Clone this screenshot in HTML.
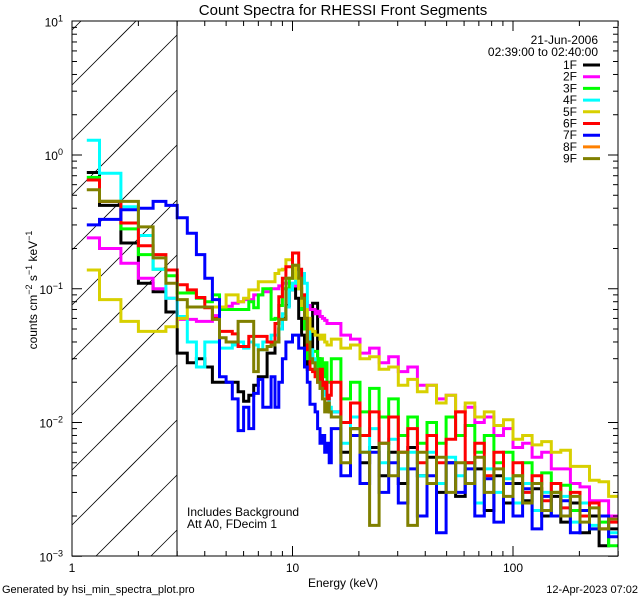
<!DOCTYPE html>
<html><head><meta charset="utf-8"><style>
html,body{margin:0;padding:0;background:#fff;width:640px;height:600px;overflow:hidden;}
svg{display:block;font-family:"Liberation Sans",sans-serif;}
</style></head><body>
<svg id="chart" width="640" height="600" viewBox="0 0 640 600" xmlns="http://www.w3.org/2000/svg">
<defs><clipPath id="plotclip"><rect x="72" y="21" width="546" height="535"/></clipPath></defs>
<text x="343" y="15" font-size="15" text-anchor="middle">Count Spectra for RHESSI Front Segments</text>
<g id="hatch"></g>
<g id="series" clip-path="url(#plotclip)"></g>
<g id="axes"></g>
<rect x="72" y="21" width="546" height="535" fill="none" stroke="#000" stroke-width="1"/>
<line x1="177" y1="21" x2="177" y2="556" stroke="#000" stroke-width="1"/>
<text transform="translate(37,290) rotate(-90)" font-size="12" text-anchor="middle">counts cm<tspan dy="-5" font-size="9">−2</tspan><tspan dy="5"> s</tspan><tspan dy="-5" font-size="9">−1</tspan><tspan dy="5"> keV</tspan><tspan dy="-5" font-size="9">−1</tspan></text>
<text x="343" y="587" font-size="12" text-anchor="middle">Energy (keV)</text>
<text x="2" y="593" font-size="11">Generated by hsi_min_spectra_plot.pro</text>
<text x="638" y="593" font-size="11" text-anchor="end">12-Apr-2023 07:02</text>
<text x="187" y="516" font-size="12">Includes Background</text>
<text x="187" y="528" font-size="12">Att A0, FDecim 1</text>
<text x="598" y="44" font-size="12" text-anchor="end">21-Jun-2006</text>
<text x="598" y="56" font-size="12" text-anchor="end">02:39:00 to 02:40:00</text>
<g id="legend"></g>
</svg>
<script>
const seriesNames = ["1F","2F","3F","4F","5F","6F","7F","8F","9F"];
const seriesColors = ["#000000","#ff00ff","#00ff00","#00ffff","#d8d000","#ff0000","#0000ff","#ff8000","#808000"];
const s1F = [.74,.42,.22,.11,.095,.067,.033,.028,.03,.026,.02,.02,.02,.02,.017,.0144,.016,.019,.022,.022,.033,.033,.04,.05,.06,.075,.098,.1,.085,.06,.045,.035,.025,.03,.078,.078,.03,.022,.02,.018,.015,.012,
 .012,.006,.009,.005,.0065,.004,.006,.0035,.0065,.004,.0055,.003,.005,.0028,.005,.0045,.0022,.004,.0025,.0035,.0026,.0032,.002,.0028,.0018,.0025,.0015,.002,.0012,.0016];
const s2F = [.24,.2,.155,.12,.1,.085,.059,.059,.057,.057,.063,.07,.074,.078,.08,.083,.083,.09,.09,.095,.095,.1,.1,.105,.11,.11,.11,.11,.105,.1,.09,.08,.075,.07,.07,.065,.068,.062,.06,.058,.055,.055,
 .055,.045,.042,.033,.036,.028,.031,.024,.026,.019,.019,.015,.016,.012,.013,.01,.011,.008,.009,.0065,.007,.0055,.006,.0045,.0045,.0035,.0033,.0026,.0026,.002];
const s3F = [.68,.45,.28,.18,.14,.125,.093,.093,.085,.08,.09,.07,.07,.07,.07,.07,.08,.072,.09,.1,.1,.059,.06,.075,.1,.1,.12,.13,.12,.1,.07,.05,.03,.028,.034,.034,.025,.03,.022,.028,.02,.02,
 .03,.015,.02,.012,.018,.011,.015,.008,.011,.007,.01,.007,.011,.008,.0095,.006,.008,.005,.006,.004,.005,.0035,.0042,.003,.0034,.0022,.0025,.0016,.0018,.0012];
const s4F = [1.29,.73,.41,.25,.14,.085,.062,.04,.026,.04,.04,.036,.036,.038,.04,.036,.04,.038,.035,.04,.04,.045,.045,.05,.065,.073,.098,.11,.138,.138,.13,.11,.06,.035,.03,.025,.022,.018,.02,.016,.015,.013,
 .012,.007,.011,.006,.009,.005,.0075,.0045,.006,.004,.006,.0035,.0055,.004,.005,.0025,.0045,.003,.0038,.0025,.0035,.0022,.003,.002,.0028,.0018,.0025,.0017,.002,.0015];
const s5F = [.138,.083,.057,.048,.048,.052,.06,.073,.073,.073,.073,.073,.09,.09,.08,.085,.098,.098,.113,.113,.113,.113,.13,.138,.14,.165,.165,.15,.12,.1,.075,.07,.06,.05,.048,.045,.045,.042,.045,.04,.038,.038,
 .042,.036,.038,.03,.031,.025,.026,.019,.021,.017,.019,.014,.016,.012,.014,.011,.012,.0095,.0105,.0075,.008,.0068,.0072,.006,.0062,.0047,.0047,.0037,.0036,.0028];
const s6F = [.65,.45,.31,.21,.18,.138,.107,.098,.086,.072,.06,.048,.048,.046,.037,.037,.044,.044,.044,.044,.04,.04,.055,.087,.12,.146,.146,.185,.185,.14,.09,.06,.035,.025,.024,.022,.02,.025,.018,.02,.015,.016,
 .02,.01,.014,.008,.012,.007,.011,.006,.009,.005,.008,.005,.0075,.012,.005,.007,.004,.006,.0035,.005,.003,.004,.0026,.0035,.0023,.003,.002,.0025,.0016,.0018];
const s7F = [.30,.33,.39,.40,.45,.42,.34,.26,.18,.12,.083,.022,.02,.015,.0087,.013,.009,.0165,.021,.013,.013,.022,.013,.02,.03,.04,.04,.045,.045,.036,.036,.026,.02,.0137,.0137,.012,.009,.007,.008,.006,.007,.005,
 .009,.004,.008,.0035,.006,.003,.005,.0025,.0045,.002,.004,.0015,.005,.003,.0045,.002,.0038,.0018,.0035,.002,.0032,.0016,.0028,.002,.0026,.0015,.0022,.0016,.002,.0014];
const s8F = [];
const s9F = [.55,.45,.45,.29,.17,.11,.083,.073,.073,.073,.059,.043,.04,.04,.057,.057,.057,.024,.035,.035,.037,.038,.04,.059,.059,.12,.12,.15,.15,.12,.085,.06,.04,.03,.028,.025,.02,.018,.015,.012,.014,.012,
 .011,.005,.009,.006,.0017,.007,.004,.006,.0017,.006,.0035,.0055,.003,.005,.0035,.0055,.003,.0045,.0028,.004,.0025,.0035,.0022,.003,.002,.0028,.0018,.0023,.0016,.0019];
const seriesData = [s1F,s2F,s3F,s4F,s5F,s6F,s7F,s8F,s9F];
const xTickMajor = [1,10,100];
const xTickLabels = ["1","10","100"];
const yTickExps = [1,0,-1,-2,-3];

const NS="http://www.w3.org/2000/svg";
function xs(E){return 72+220.5*Math.log10(E);}
function ys(v){return 155-133.75*Math.log10(v);}
function mk(tag,attrs,parent){const e=document.createElementNS(NS,tag);for(const k in attrs)e.setAttribute(k,attrs[k]);parent.appendChild(e);return e;}

const edges=[7/6];
for(let k=0;k<=41;k++) edges.push(4/3+k/3);
for(let j=1;j<=30;j++) edges.push(15*Math.pow(20,j/30));

// hatch lines clipped geometrically to x[72,177], y[21,556]; line: y = c - (x-72)
const hatch=document.getElementById('hatch');
const HX0=72,HX1=177,HY0=21,HY1=556;
for(let k=-2;k<12;k++){
  const c=85+k*55;
  let xa=HX0, ya=c;
  if(ya>HY1){xa=HX0+(ya-HY1); ya=HY1;}
  let xb=HX1, yb=c-(HX1-HX0);
  if(yb<HY0){xb=HX0+(c-HY0); yb=HY0;}
  if(xa>=HX1||xb<=HX0||ya<=HY0) continue;
  const ln=mk('line',{x1:xa,y1:ya,x2:xb,y2:yb,stroke:'#000','stroke-width':0.8},hatch);
  
  
}

const sg=document.getElementById('series');
seriesData.forEach((vals,i)=>{
  if(!vals.length) return;
  let d='';
  for(let b=0;b<vals.length;b++){
    const y=ys(vals[b]).toFixed(1), x0=xs(edges[b]).toFixed(1), x1=xs(edges[b+1]).toFixed(1);
    d+=(b===0?'M'+x0+','+y:'L'+x0+','+y)+'L'+x1+','+y;
  }
  const p=mk('path',{d:d,fill:'none',stroke:seriesColors[i],'stroke-width':3,'stroke-linejoin':'miter'},sg);
  
  
});

const ax=document.getElementById('axes');
for(let dec=0;dec<3;dec++){
  for(let m=1;m<10;m++){
    const E=m*Math.pow(10,dec); if(E>300) break;
    const x=xs(E), len=(m===1)?10:5;
    const t1=mk('line',{x1:x,y1:556,x2:x,y2:556-len,stroke:'#000'},ax);
    
    
    const t2=mk('line',{x1:x,y1:21,x2:x,y2:21+len,stroke:'#000'},ax);
    
    
  }
}
xTickMajor.forEach((E,i)=>{
  const t=mk('text',{x:xs(E),y:572,'font-size':12,'text-anchor':'middle'},ax);
  t.textContent=xTickLabels[i];
  
  
});
for(let e=-3;e<1;e++){
  for(let m=1;m<10;m++){
    const v=m*Math.pow(10,e), y=ys(v), len=(m===1)?10:5;
    const a=mk('line',{x1:72,y1:y,x2:72+len,y2:y,stroke:'#000'},ax);
    
    
    const b=mk('line',{x1:618,y1:y,x2:618-len,y2:y,stroke:'#000'},ax);
    
    
  }
}
yTickExps.forEach(e=>{
  const y=ys(Math.pow(10,e));
  const t=mk('text',{x:63,y:y+5,'font-size':12,'text-anchor':'end'},ax);
  
  
  const base=document.createElementNS(NS,'tspan'); base.textContent='10'; t.appendChild(base);
  const sup=document.createElementNS(NS,'tspan'); sup.setAttribute('dy','-5'); sup.setAttribute('font-size','9');
  sup.textContent=(e<0?'−':'')+Math.abs(e); t.appendChild(sup);
});

const lg=document.getElementById('legend');
seriesNames.forEach((n,i)=>{
  const y=69+i*11.7;
  const t=mk('text',{x:577,y:y,'font-size':12,'text-anchor':'end'},lg);
  t.textContent=n;
  
  
  const l=mk('line',{x1:583,y1:y-4,x2:600,y2:y-4,stroke:seriesColors[i],'stroke-width':3},lg);
  
  
});
</script>
</body></html>
